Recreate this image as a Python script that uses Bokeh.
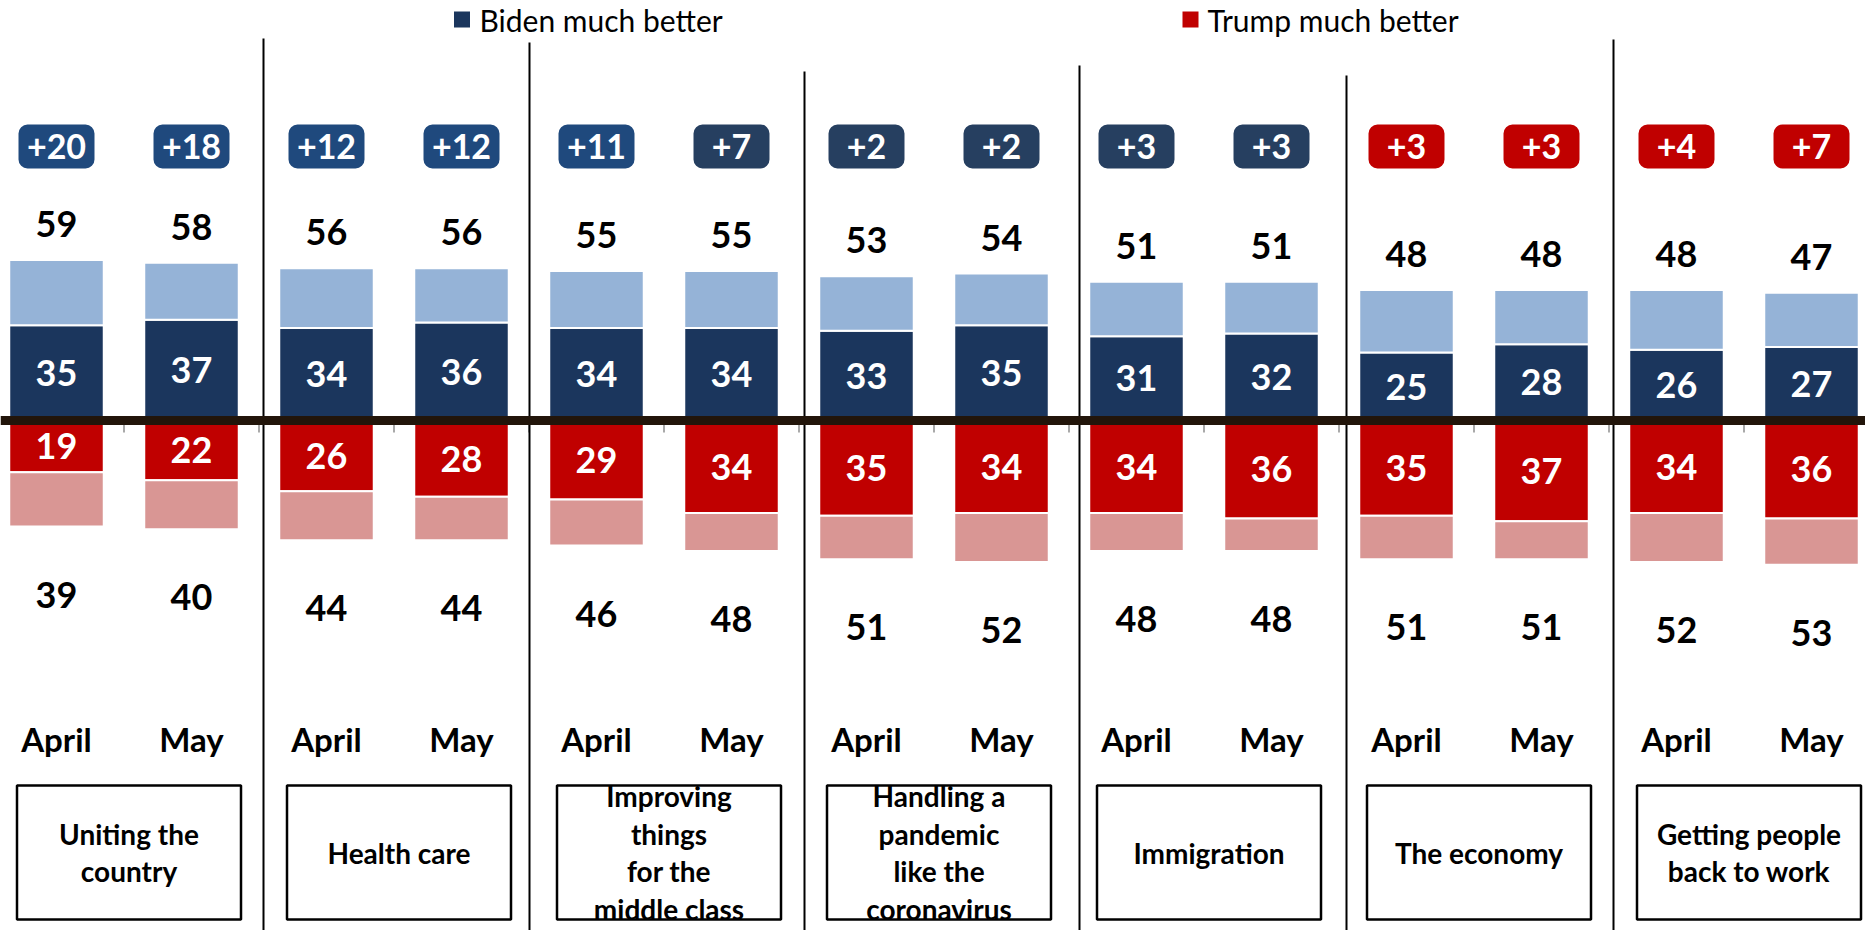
from bokeh.plotting import figure
from bokeh.models import Range1d, Span
from bokeh.core.properties import value
from bokeh.embed import file_html
from bokeh.resources import INLINE

# ---------------- data ----------------
categories = ["Uniting the\ncountry", "Health care", "Improving\nthings\nfor the\nmiddle class",
              "Handling a\npandemic\nlike the\ncoronavirus", "Immigration", "The economy",
              "Getting people\nback to work"]
months = ["April", "May"]
biden_much = [35, 37, 34, 36, 34, 34, 33, 35, 31, 32, 25, 28, 26, 27]
biden_total = [59, 58, 56, 56, 55, 55, 53, 54, 51, 51, 48, 48, 48, 47]
trump_much = [19, 22, 26, 28, 29, 34, 35, 34, 34, 36, 35, 37, 34, 36]
trump_total = [39, 40, 44, 44, 46, 48, 51, 52, 48, 48, 51, 51, 52, 53]
lead_margin = [20, 18, 12, 12, 11, 7, 2, 2, 3, 3, 3, 3, 4, 7]
lead_side = ["Biden"] * 10 + ["Trump"] * 4
legend_labels = ["Biden much better", "Trump much better"]

# ---------------- layout ----------------
W, H = 1865, 930
K = 2.72            # px per percentage point
AXIS_CY = 420       # canvas y of the zero line
X0, DX = 56, 135    # canvas x of first bar, px per bar slot
FONT = value("Lato")

def py(y):
    return (AXIS_CY - y) / K

def px(x):
    return (x - X0) / DX

DARK_BLUE = "#1b365d"
LIGHT_BLUE = "#95b3d7"
RED = "#c00000"
PINK = "#d99694"

n = len(biden_much)
idx = list(range(n))

p = figure(width=W, height=H, x_range=Range1d(-X0 / DX, (W - X0) / DX),
           y_range=Range1d(-(H - AXIS_CY) / K, AXIS_CY / K),
           output_backend="svg", toolbar_location=None, min_border=0)
p.axis.visible = False
p.grid.visible = False
p.outline_line_color = None
p.background_fill_color = "white"
p.border_fill_color = "white"

# bars
p.vbar(x=idx, width=0.7, bottom=0, top=biden_much, fill_color=DARK_BLUE, line_color="white", line_width=2)
p.vbar(x=idx, width=0.7, bottom=biden_much, top=biden_total, fill_color=LIGHT_BLUE, line_color="white", line_width=2)
p.vbar(x=idx, width=0.7, top=0, bottom=[-v for v in trump_much], fill_color=RED, line_color="white", line_width=2)
p.vbar(x=idx, width=0.7, top=[-v for v in trump_much], bottom=[-v for v in trump_total],
       fill_color=PINK, line_color="white", line_width=2)

# small ticks between bars
tick_x = [i + 0.5 for i in range(n - 1)]
p.segment(x0=tick_x, x1=tick_x, y0=[0] * len(tick_x), y1=[-12 / K] * len(tick_x),
          line_color="#8c8c8c", line_width=1.5)

# zero line
p.add_layout(Span(location=0, dimension="width", line_color="#22150a", line_width=9))

# group separators (page x / top y)
sep_page_x = [263, 529, 804, 1079, 1346, 1613]
sep_top = [38, 42, 71, 65, 75, 39]
sep_x = [px(v) for v in sep_page_x]
p.segment(x0=sep_x, x1=sep_x, y0=[py(t) for t in sep_top], y1=[py(930)] * len(sep_x),
          line_color="black", line_width=2)

# inner labels
p.text(x=idx, y=[v / 2 for v in biden_much], text=[str(v) for v in biden_much],
       text_align="center", text_baseline="middle", text_font=FONT, text_font_style="bold",
       text_font_size="36px", text_color="white")
p.text(x=idx, y=[-v / 2 for v in trump_much], text=[str(v) for v in trump_much],
       text_align="center", text_baseline="middle", text_font=FONT, text_font_style="bold",
       text_font_size="36px", text_color="white")

# totals
p.text(x=idx, y=[v + 13.2 for v in biden_total], text=[str(v) for v in biden_total],
       text_align="center", text_baseline="middle", text_font=FONT, text_font_style="bold",
       text_font_size="36px", text_color="black")
p.text(x=idx, y=[-(v + 25) for v in trump_total], text=[str(v) for v in trump_total],
       text_align="center", text_baseline="middle", text_font=FONT, text_font_style="bold",
       text_font_size="36px", text_color="black")

# lead badges
badge_colors = []
for m, s in zip(lead_margin, lead_side):
    if s == "Trump":
        badge_colors.append(RED)
    elif m >= 10:
        badge_colors.append("#1f497d")
    else:
        badge_colors.append("#263f60")
badge_y = [py(146)] * n
p.rect(x=idx, y=badge_y, width=76, height=44, width_units="screen", height_units="screen",
       fill_color=badge_colors, line_color=None, border_radius=9)
p.text(x=idx, y=badge_y, text=["+%d" % m for m in lead_margin],
       text_align="center", text_baseline="middle", text_font=FONT, text_font_style="bold",
       text_font_size="34px", text_color="white")

# month labels
p.text(x=idx, y=[py(738)] * n, text=[months[i % 2] for i in idx],
       text_align="center", text_baseline="middle", text_font=FONT, text_font_style="bold",
       text_font_size="33px", text_color="black")

# category boxes
g_x = [2 * g + 0.5 + 5 / DX for g in range(len(categories))]
box_y = [py(852)] * len(categories)
p.rect(x=g_x, y=box_y, width=224, height=134, width_units="screen", height_units="screen",
       fill_color=None, line_color="black", line_width=2.5)
p.text(x=g_x, y=box_y, text=categories, text_align="center", text_baseline="middle",
       text_font=FONT, text_font_style="bold", text_font_size="28px", text_color="black",
       text_line_height=1.1)

# legend
p.rect(x=[px(461.5), px(1190)], y=[py(19)] * 2, width=16, height=16, width_units="screen",
       height_units="screen", fill_color=[DARK_BLUE, RED], line_color=None)
p.text(x=[px(479), px(1207)], y=[py(19)] * 2, text=legend_labels, text_align="left",
       text_baseline="middle", text_font=FONT, text_font_size="30px", text_color="black")

open("out.html", "w").write(file_html(p, INLINE))
